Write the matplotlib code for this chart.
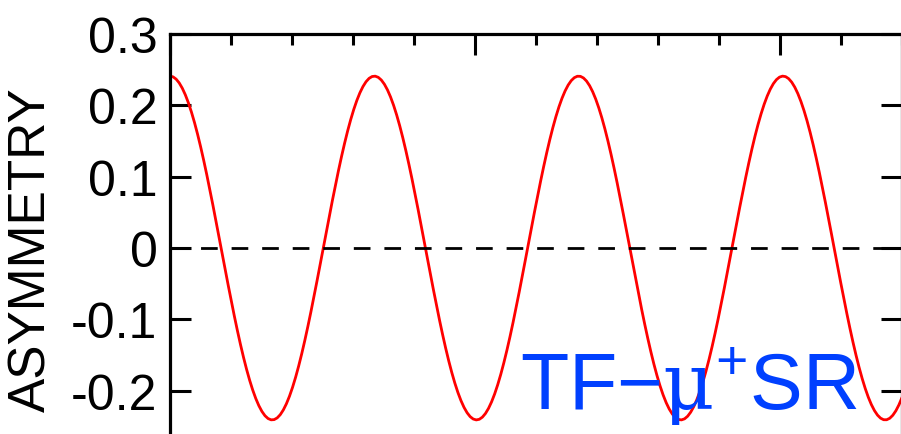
import numpy as np
import matplotlib
matplotlib.use("Agg")
import matplotlib.pyplot as plt
from matplotlib.ticker import MultipleLocator

plt.rcParams['font.family'] = ['Liberation Sans', 'DejaVu Sans']
plt.rcParams['mathtext.fontset'] = 'custom'
plt.rcParams['mathtext.rm'] = 'Liberation Sans'
plt.rcParams['mathtext.sf'] = 'DejaVu Serif'

# TF-muSR precession signal
amplitude = 0.241      # initial asymmetry
period = 3.35          # precession period (x units)
t = np.linspace(0, 12, 240)
asym = amplitude * np.cos(2 * np.pi * t / period)

ytick_vals = [-0.2, -0.1, 0, 0.1, 0.2, 0.3]
ytick_labels = ['-0.2', '-0.1', '0', '0.1', '0.2', '0.3']

fig = plt.figure(figsize=(9.01, 4.35), dpi=100)
ax = fig.add_axes([0.1887, -0.0644, 0.8124, 0.9839])

ax.plot(t, asym, color='#ff0000', lw=2)
ax.axhline(0, color='black', lw=2, ls=(0, (6, 5)))

ax.set_xlim(0, 12)
ax.set_ylim(-0.3, 0.3)

ax.set_yticks(ytick_vals)
ax.set_yticklabels(ytick_labels)
ax.xaxis.set_major_locator(MultipleLocator(5))
ax.xaxis.set_minor_locator(MultipleLocator(1))

ax.tick_params(axis='y', which='major', direction='in', length=15, width=2.2,
               left=True, right=True, labelsize=36, pad=9)
ax.tick_params(axis='x', which='major', direction='in', length=15, width=2.2,
               top=True, bottom=True, labelbottom=False)
ax.tick_params(axis='x', which='minor', direction='in', length=8, width=2.2,
               top=True, bottom=True)

for s in ax.spines.values():
    s.set_linewidth(2.3)

fig.text(32 / 901, 1 - 250 / 435, 'ASYMMETRY', fontsize=37, rotation=90,
         ha='center', va='center')

ax.text(5.74, -0.225, r'TF$-\mathsf{\mu}^{+}$SR', color='#0040ff',
        fontsize=57, ha='left', va='baseline')

fig.savefig('out.png', dpi=100)
